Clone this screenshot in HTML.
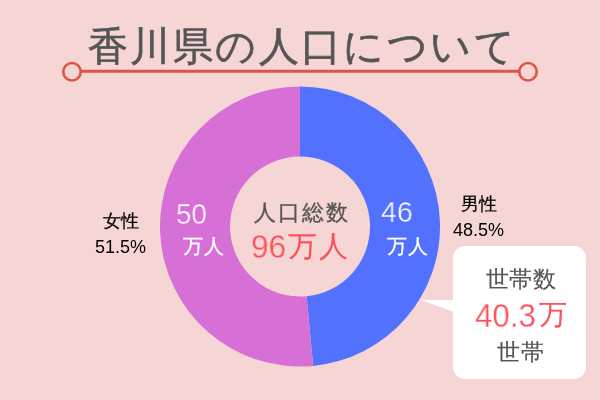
<!DOCTYPE html>
<html><head><meta charset="utf-8">
<style>
html,body{margin:0;padding:0}
body{width:600px;height:400px;background:#f6d5d5;position:relative;overflow:hidden;font-family:"Liberation Sans",sans-serif}
.t{position:absolute;white-space:nowrap;line-height:1;will-change:transform}
svg{position:absolute;left:0;top:0}
</style></head><body>
<svg width="600" height="400" viewBox="0 0 600 400">
  <line x1="72" y1="71.3" x2="528" y2="71.3" stroke="#de5445" stroke-width="3"/>
  <circle cx="72" cy="71.75" r="8.7" fill="#f6d5d5" stroke="#de5445" stroke-width="2.6"/>
  <circle cx="528" cy="71.75" r="8.7" fill="#f6d5d5" stroke="#de5445" stroke-width="2.6"/>
  <!-- donut -->
  <path fill="#5271ff" d="M300.00,86.50 A140,140 0 0 1 313.18,365.88 L306.59,296.19 A70,70 0 0 0 300.00,156.50 Z"/>
  <path fill="#d670d6" d="M313.18,365.88 A140,140 0 1 1 300.00,86.50 L300.00,156.50 A70,70 0 1 0 306.59,296.19 Z"/>
  <!-- bubble -->
  <rect x="453" y="246" width="133" height="133" rx="12" fill="#fff"/>
  <polygon points="454,300 421,300 454,312" fill="#fff"/>
</svg>
<div class="t" id="title" style="left:87.5px;top:26px;font-size:40px;color:#555;letter-spacing:2.4px;-webkit-text-stroke:0.6px #555">香川県の人口について</div>
<div class="t" id="c1" style="left:253.5px;top:202.5px;font-size:21.5px;color:#555;letter-spacing:1.9px;-webkit-text-stroke:0.3px #555">人口総数</div>
<div class="t" id="c96" style="left:251px;top:229.7px;font-size:33px;color:#fd5058;-webkit-text-stroke:0.3px #f6d5d5;transform:scaleX(0.96);transform-origin:0 0">96</div>
<div class="t" id="cman" style="left:287.5px;top:231.5px;font-size:29px;color:#fd5058;letter-spacing:2px;-webkit-text-stroke:0.1px #fd5058">万人</div>
<div class="t" id="n50" style="left:176px;top:199.2px;font-size:30px;color:#fff;-webkit-text-stroke:0.4px #d670d6;transform:scaleX(0.92);transform-origin:0 0">50</div>
<div class="t" id="manL" style="left:183.3px;top:235.5px;font-size:20px;color:#fff;letter-spacing:1px;-webkit-text-stroke:0.3px #fff">万人</div>
<div class="t" id="n46" style="left:380.6px;top:197.2px;font-size:30px;color:#fff;-webkit-text-stroke:0.4px #5271ff;transform:scaleX(0.95);transform-origin:0 0">46</div>
<div class="t" id="manR" style="left:387px;top:235.8px;font-size:20px;color:#fff;letter-spacing:1px;-webkit-text-stroke:0.3px #fff">万人</div>
<div class="t" id="jyosei" style="left:102.8px;top:211.7px;font-size:18px;color:#000;-webkit-text-stroke:0.25px #000">女性</div>
<div class="t" id="pctL" style="left:94.6px;top:237.7px;font-size:18px;color:#000">51.5%</div>
<div class="t" id="dansei" style="left:460.7px;top:194.8px;font-size:18px;color:#000;-webkit-text-stroke:0.25px #000">男性</div>
<div class="t" id="pctR" style="left:452.8px;top:220.8px;font-size:18px;color:#000">48.5%</div>
<div class="t" id="b1" style="left:485.6px;top:269.3px;font-size:22.5px;color:#555;letter-spacing:0.4px;-webkit-text-stroke:0.15px #555">世帯数</div>
<div class="t" id="b403" style="left:475px;top:298.5px;font-size:33px;color:#fd5058;-webkit-text-stroke:0.3px #fff;transform:scaleX(0.95);transform-origin:0 0">40.3</div>
<div class="t" id="bman" style="left:538.7px;top:301.3px;font-size:28px;color:#fd5058;-webkit-text-stroke:0.1px #fd5058">万</div>
<div class="t" id="b2" style="left:497px;top:341.3px;font-size:23px;color:#555;letter-spacing:0.8px;-webkit-text-stroke:0.15px #555">世帯</div>
</body></html>
